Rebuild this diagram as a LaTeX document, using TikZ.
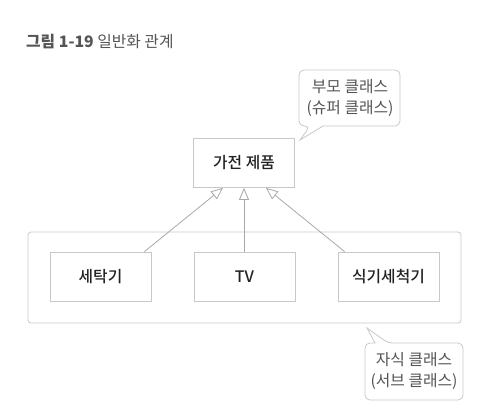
\documentclass[tikz,border=0pt]{standalone}
\usepackage{fontspec}
\setmainfont{Noto Sans CJK KR}
\newfontfamily\medfont{Noto Sans CJK KR Medium}
\usetikzlibrary{arrows.meta,calc}
\definecolor{boxline}{HTML}{C8C8C8}
\definecolor{conline}{HTML}{A8A8A8}
\definecolor{graytext}{HTML}{555555}
\definecolor{darktext}{HTML}{222222}
\begin{document}
\begin{tikzpicture}[x=1pt,y=-1pt,
  every node/.style={font=\fontsize{15.8}{20.5}\selectfont, inner sep=0pt},
  classbox/.style={draw=boxline, line width=0.8pt, fill=white, minimum width=101pt, minimum height=49pt, text=darktext, font=\fontsize{15.8}{20.5}\medfont},
  container/.style={draw=boxline, line width=0.8pt, rounded corners=3pt, minimum width=433pt, minimum height=91pt},
  callout/.style={draw=boxline, line width=0.8pt, fill=white},
  notetext/.style={text=graytext, align=center},
  inherit/.style={draw=conline, line width=0.8pt, -{Triangle[open, length=12pt, width=10pt, fill=white]}}
]
\useasboundingbox (0,0) rectangle (502,407);

% title
\node[anchor=base west, text=graytext] (title) at (26,47) {\textbf{그림 1-19} 일반화 관계};

% container
\node[container] (group) at (244.5,277.5) {};

% classes
\node[classbox] (parent) at (244,163) {가전 제품};
\node[classbox] (c1) at (100.5,276.5) {세탁기};
\node[classbox] (c2) at (244.5,276.5) {TV};
\node[classbox] (c3) at (388.5,276.5) {식기세척기};

% inheritance
\draw[inherit] ($(c1.north east)+(-7,0)$) -- ($(parent.south)+(-21,0)$);
\draw[inherit] (c2.north -| parent.south) -- (parent.south);
\draw[inherit] ($(c3.north west)+(7,0)$) -- ($(parent.south)+(22,0)$);

% callout 1
\draw[callout] (310,126) -- (300,140) -- (323,126) [rounded corners=5pt] -- (400,126) -- (400,70) -- (299,70) -- (299,126) -- cycle;
\node[notetext] (note1) at (350,98) {부모 클래스\\(슈퍼 클래스)};

% callout 2
\draw[callout] (388,343) -- (367,328) -- (375,343) [rounded corners=5pt] -- (365,343) -- (365,400) -- (463,400) -- (463,343) -- cycle;
\node[notetext] (note2) at (414,371) {자식 클래스\\(서브 클래스)};
\end{tikzpicture}
\end{document}
